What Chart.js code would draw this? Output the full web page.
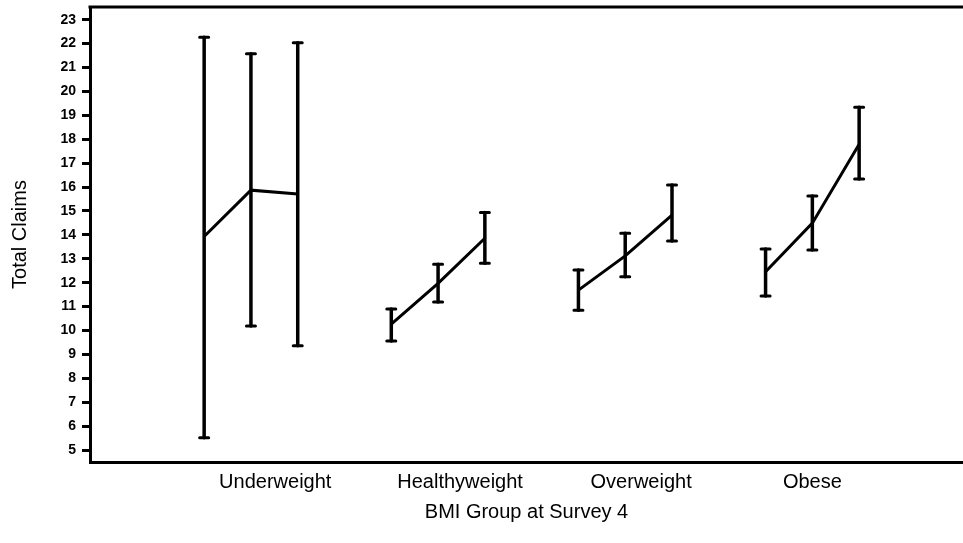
<!DOCTYPE html>
<meta charset="utf-8">
<head>
  <title>Total claims by BMI group</title>
  <style>
    html, body { margin: 0; padding: 0; background: #fff; }
    .container { width: 963px; height: 543px; }
  </style>
</head>
<body>
  <div class="container">
    <canvas id="chart"></canvas>
  </div>

<script src="https://cdn.jsdelivr.net/npm/chart.js@4.4.1/dist/chart.umd.min.js"></script>
<script>
  // three surveys per BMI group, groups in this order
  var groups = ['Underweight', 'Healthyweight', 'Overweight', 'Obese'];
  var meanClaims = [13.93, 15.87, 15.71, 10.27, 11.97, 13.86, 11.69, 13.12, 14.83, 12.46, 14.49, 17.79];
  var lowerCI = [5.51, 10.19, 9.36, 9.56, 11.19, 12.81, 10.85, 12.25, 13.74, 11.44, 13.37, 16.34];
  var upperCI = [22.27, 21.57, 22.03, 10.90, 12.77, 14.93, 12.53, 14.07, 16.09, 13.41, 15.63, 19.34];
  var yTicks = [5, 6, 7, 8, 9, 10, 11, 12, 13, 14, 15, 16, 17, 18, 19, 20, 21, 22, 23];

  var FONT = '"Liberation Sans", Arial, Helvetica, sans-serif';

  // x position: each group gets 3 slots plus one gap
  function xPos(i) {
    return Math.floor(i / 3) * 4 + (i % 3);
  }

  var datasets = [];
  for (var g = 0; g < groups.length; g++) {
    var pts = [];
    for (var k = 0; k < 3; k++) {
      var i = g * 3 + k;
      pts.push({ x: xPos(i), y: meanClaims[i], lo: lowerCI[i], hi: upperCI[i] });
    }
    datasets.push({
      label: groups[g],
      data: pts,
      showLine: true,
      borderColor: '#000',
      borderWidth: 3,
      pointRadius: 0,
      tension: 0
    });
  }

  var errorBars = {
    id: 'errorBars',
    afterDatasetsDraw: function(chart) {
      var ctx = chart.ctx;
      var xs = chart.scales.x, ys = chart.scales.y;
      ctx.save();
      ctx.strokeStyle = '#000';
      ctx.lineCap = 'round';
      chart.data.datasets.forEach(function(ds) {
        ds.data.forEach(function(p) {
          var px = xs.getPixelForValue(p.x);
          var top = ys.getPixelForValue(p.hi);
          var bot = ys.getPixelForValue(p.lo);
          ctx.lineWidth = 3.5;
          ctx.beginPath();
          ctx.moveTo(px, top);
          ctx.lineTo(px, bot);
          ctx.stroke();
          ctx.lineWidth = 3;
          ctx.beginPath();
          ctx.moveTo(px - 4.5, top); ctx.lineTo(px + 4.5, top);
          ctx.moveTo(px - 4.5, bot); ctx.lineTo(px + 4.5, bot);
          ctx.stroke();
        });
      });
      ctx.restore();
    },
    afterDraw: function(chart) {
      // top frame line
      var a = chart.chartArea, ctx = chart.ctx;
      ctx.save();
      ctx.strokeStyle = '#000';
      ctx.lineWidth = 3;
      ctx.beginPath();
      ctx.moveTo(a.left - 1.5, a.top);
      ctx.lineTo(a.right, a.top);
      ctx.stroke();
      ctx.restore();
    }
  };

  var chart = new Chart('chart', {
    type: 'scatter',
    data: { datasets: datasets },
    plugins: [errorBars],
    options: {
      responsive: true,
      maintainAspectRatio: false,
      animation: false,
      layout: { padding: { top: 7, left: 0, right: 0, bottom: 0 } },
      plugins: {
        legend: { display: false },
        tooltip: { enabled: false }
      },
      scales: {
        x: {
          type: 'linear',
          min: -2.44,
          max: 16.22,
          afterFit: function(s) {
            s.height = 81;
            s.paddingLeft = 0; s.paddingRight = 0;
          },
          afterBuildTicks: function(s) {
            s.ticks = [1.52, 5.47, 9.34, 13.0].map(function(v) { return { value: v }; });
          },
          ticks: {
            autoSkip: false,
            maxRotation: 0,
            padding: 8,
            color: '#000',
            font: { family: FONT, size: 20 },
            callback: function(v, idx) { return groups[idx]; }
          },
          grid: { display: false, drawTicks: false },
          border: { display: true, color: '#000', width: 3 },
          title: {
            display: true,
            text: 'BMI Group at Survey 4',
            color: '#000',
            font: { family: FONT, size: 20 },
            padding: { top: 0, bottom: 19 }
          }
        },
        y: {
          min: 4.5,
          max: 23.53,
          afterFit: function(s) {
            s.width = 90;
            s.paddingTop = 0; s.paddingBottom = 0;
          },
          afterBuildTicks: function(s) {
            s.ticks = yTicks.map(function(v) { return { value: v }; });
          },
          ticks: {
            padding: 6,
            color: '#000',
            font: { family: FONT, size: 14, weight: 'bold' }
          },
          grid: {
            display: true,
            drawOnChartArea: false,
            drawTicks: true,
            tickLength: 8,
            tickWidth: 3,
            tickColor: '#000'
          },
          border: { display: true, color: '#000', width: 3 },
          title: {
            display: true,
            text: 'Total Claims',
            color: '#000',
            font: { family: FONT, size: 20 },
            padding: { top: 8, bottom: 0 }
          }
        }
      }
    }
  });
</script>
</body>
</html>
